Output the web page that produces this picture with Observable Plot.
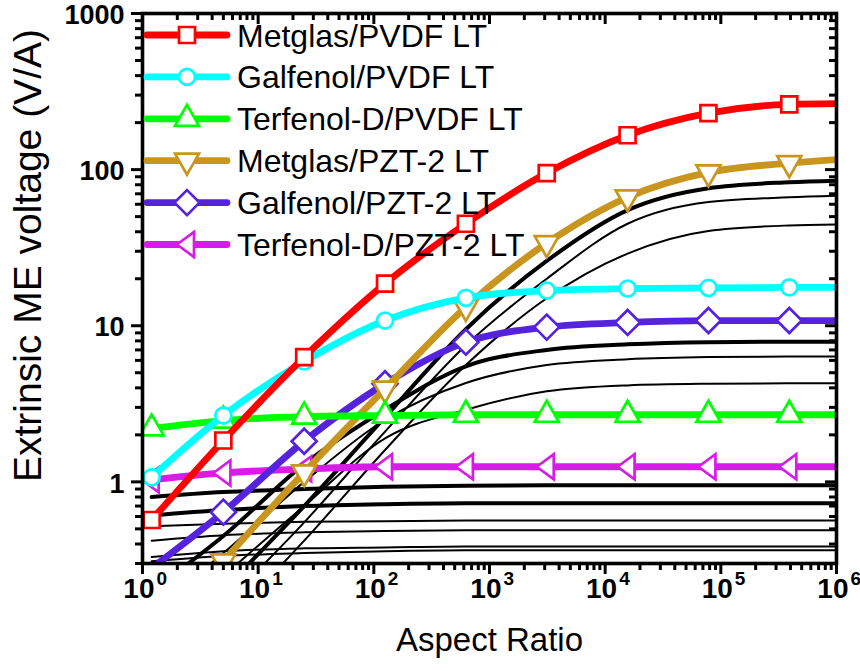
<!DOCTYPE html>
<html>
<head>
<meta charset="utf-8">
<script src="https://cdn.jsdelivr.net/npm/d3@7"></script>
<script src="https://cdn.jsdelivr.net/npm/@observablehq/plot@0.6"></script>
<style>
  html, body { margin: 0; padding: 0; background: #fff; }
  #chart svg { display: block; }
</style>
</head>
<body>
<div id="chart"></div>
<script>
// Aspect ratios at which the curves were evaluated (markers on all but the last)
const aspectRatio = [1.2, 5, 25, 125, 625, 3125, 15625, 78125, 390625, 1e6];

// Extrinsic ME voltage (V/A), longitudinal-transverse (LT) mode
const metglasPVDF   = [0.57, 1.84, 6.3, 18.6, 45, 95, 166, 230, 262, 265];
const galfenolPVDF  = [1.07, 2.66, 5.9, 10.8, 15.1, 16.8, 17.3, 17.5, 17.6, 17.6];
const terfenolPVDF  = [2.2, 2.47, 2.62, 2.66, 2.69, 2.69, 2.69, 2.69, 2.69, 2.69];
const metglasPZT    = [0.09, 0.31, 1.15, 3.95, 13.2, 33.8, 66.5, 96, 110, 116];
const galfenolPZT   = [0.28, 0.64, 1.82, 4.25, 7.85, 9.8, 10.5, 10.8, 10.8, 10.8];
const terfenolPZT   = [1.03, 1.14, 1.21, 1.25, 1.25, 1.25, 1.25, 1.25, 1.25, 1.25];

const seriesNames = [
  "Metglas/PVDF LT", "Galfenol/PVDF LT", "Terfenol-D/PVDF LT",
  "Metglas/PZT-2 LT", "Galfenol/PZT-2 LT", "Terfenol-D/PZT-2 LT"
];
const seriesValues = [metglasPVDF, galfenolPVDF, terfenolPVDF, metglasPZT, galfenolPZT, terfenolPZT];
const seriesColors = ["#FF0000", "#00FFFF", "#00FF00", "#C8961E", "#5522DD", "#D61CE6"];
const seriesMarkers = ["square", "circle", "triangleUp", "triangleDown", "diamond", "triangleLeft"];
// drawing order: later entries on top
const drawOrder = [5, 4, 3, 2, 1, 0];

// Companion curves (black), thick and thin
const thickCurves = [
  [0.06, 0.2, 0.7, 2.6, 9.5, 26, 55, 76, 83, 85],
  [0.2, 0.45, 1.3, 2.9, 5.5, 7.0, 7.6, 7.85, 7.9, 7.9],
  [0.8, 0.86, 0.9, 0.93, 0.945, 0.95, 0.95, 0.95, 0.95, 0.95],
  [0.61, 0.66, 0.7, 0.72, 0.73, 0.73, 0.73, 0.73, 0.73, 0.73]
];
const thinCurves = [
  [0.05, 0.16, 0.55, 2.1, 7.5, 20, 45, 62, 66.5, 68],
  [0.04, 0.12, 0.42, 1.6, 5.6, 15, 29, 40.5, 43.9, 44.5],
  [0.15, 0.35, 1.0, 2.5, 4.3, 5.6, 6.1, 6.3, 6.35, 6.35],
  [0.1, 0.25, 0.7, 1.9, 2.9, 3.8, 4.15, 4.25, 4.28, 4.28],
  [0.52, 0.54, 0.555, 0.56, 0.565, 0.565, 0.565, 0.565, 0.565, 0.565],
  [0.42, 0.455, 0.475, 0.485, 0.49, 0.49, 0.49, 0.49, 0.49, 0.49],
  [0.33, 0.36, 0.375, 0.38, 0.385, 0.385, 0.385, 0.385, 0.385, 0.385],
  [0.31, 0.335, 0.35, 0.36, 0.365, 0.365, 0.365, 0.365, 0.365, 0.365]
];

// Axis ticks
const xMajor = [1, 10, 100, 1e3, 1e4, 1e5, 1e6];
const xExponents = ["0", "1", "2", "3", "4", "5", "6"];
const xMinor = d3.range(0, 6).flatMap(e => d3.range(2, 10).map(m => m * 10 ** e));
const yMajor = [1, 10, 100, 1000];
const yLabels = ["1", "10", "100", "1000"];
const yMinor = [0.3, 0.4, 0.5, 0.6, 0.7, 0.8, 0.9].concat(
  d3.range(0, 3).flatMap(e => d3.range(2, 10).map(m => m * 10 ** e)));

// Layout
const W = 860, H = 671;
const M = {top: 13, right: 24, bottom: 108, left: 142};
const frameW = W - M.left - M.right, frameH = H - M.top - M.bottom;
const majorLen = 11, minorLen = 7;
const font = "'Liberation Sans', Arial, Helvetica, sans-serif";

// Open marker shapes, centred on the data point (triangles on their centroid)
function poly(points) {
  return {
    draw(context, size) {
      const k = Math.sqrt(size / Math.PI) / 8;
      context.moveTo(points[0][0] * k, points[0][1] * k);
      for (const [px, py] of points.slice(1)) context.lineTo(px * k, py * k);
      context.closePath();
    }
  };
}
const markerShapes = {
  square: poly([[-8, -8], [8, -8], [8, 8], [-8, 8]]),
  circle: {draw(context, size) { const r = Math.sqrt(size / Math.PI); context.moveTo(r, 0); context.arc(0, 0, r, 0, 2 * Math.PI); }},
  triangleUp: poly([[0, -14], [12, 7], [-12, 7]]),
  triangleDown: poly([[0, 14], [12, -7], [-12, -7]]),
  diamond: poly([[0, -12.5], [12.5, 0], [0, 12.5], [-12.5, 0]]),
  triangleLeft: poly([[-10, 0], [7, -12.5], [7, 12.5]])
};

const toRows = values => aspectRatio.map((x, i) => ({x, y: values[i]}));
const inRange = r => r.y >= 0.3 && r.y <= 1000;

const marks = [];

// black companion curves
for (const c of thinCurves) {
  marks.push(Plot.line(toRows(c), {x: "x", y: "y", stroke: "#000", strokeWidth: 2, curve: "monotone-x", clip: true}));
}
for (const c of thickCurves) {
  marks.push(Plot.line(toRows(c), {x: "x", y: "y", stroke: "#000", strokeWidth: 4, curve: "monotone-x", clip: true}));
}

// coloured series: line, then open markers (not at the last evaluation point)
for (const i of drawOrder) {
  const rows = toRows(seriesValues[i]);
  marks.push(Plot.line(rows, {x: "x", y: "y", stroke: seriesColors[i], strokeWidth: 6.8, curve: "monotone-x", clip: true}));
  marks.push(Plot.dot(rows.slice(0, -1).filter(inRange), {
    x: "x", y: "y", r: 8, symbol: markerShapes[seriesMarkers[i]],
    fill: "#fff", stroke: seriesColors[i], strokeWidth: 2.7, clip: true
  }));
}

// frame and ticks (outward on left/bottom, inward on top/right)
marks.push(
  Plot.tickX(xMajor, {x: d => d, insetTop: frameH, insetBottom: -majorLen, strokeWidth: 3}),
  Plot.tickX(xMinor, {x: d => d, insetTop: frameH, insetBottom: -minorLen, strokeWidth: 3}),
  Plot.tickX(xMajor, {x: d => d, insetTop: 0, insetBottom: frameH - majorLen, strokeWidth: 3}),
  Plot.tickX(xMinor, {x: d => d, insetTop: 0, insetBottom: frameH - minorLen, strokeWidth: 3}),
  Plot.tickY(yMajor, {y: d => d, insetLeft: -majorLen, insetRight: frameW, strokeWidth: 3}),
  Plot.tickY(yMinor, {y: d => d, insetLeft: -minorLen, insetRight: frameW, strokeWidth: 3}),
  Plot.tickY(yMajor, {y: d => d, insetLeft: frameW - majorLen, insetRight: 0, strokeWidth: 3}),
  Plot.tickY(yMinor, {y: d => d, insetLeft: frameW - minorLen, insetRight: 0, strokeWidth: 3}),
  Plot.frame({stroke: "#000", strokeWidth: 3.6})
);

// tick labels: powers of ten on x, plain numbers on y
marks.push(
  Plot.text(xMajor, {x: d => d, frameAnchor: "bottom", text: () => "10", dx: 12, dy: 34,
    textAnchor: "end", fontSize: 28, fontWeight: "bold", fill: "#000"}),
  Plot.text(xMajor, {x: d => d, frameAnchor: "bottom", text: (d, i) => xExponents[i], dx: 14, dy: 21,
    textAnchor: "start", fontSize: 19, fontWeight: "bold", fill: "#000"}),
  Plot.text(yMajor, {y: d => d, frameAnchor: "left", text: (d, i) => yLabels[i], dx: -18, dy: 2,
    textAnchor: "end", fontSize: 27, fontWeight: "bold", fill: "#000"})
);

// axis titles
marks.push(
  Plot.text(["Aspect Ratio"], {frameAnchor: "bottom", dy: 87, fontSize: 33, textAnchor: "middle", fill: "#000"}),
  Plot.text(["Extrinsic ME voltage (V/A)"], {frameAnchor: "left", rotate: -90, dx: -114, dy: -33,
    textAnchor: "middle", fontSize: 39, fill: "#000"})
);

const chart = Plot.plot({
  width: W,
  height: H,
  marginTop: M.top,
  marginRight: M.right,
  marginBottom: M.bottom,
  marginLeft: M.left,
  style: {fontFamily: font, background: "#fff", color: "#000", overflow: "visible"},
  x: {type: "log", domain: [1, 1e6], axis: null},
  y: {type: "log", domain: [0.3, 1000], axis: null},
  marks
});

// legend in the upper-left corner of the frame
const legend = d3.select(chart).append("g")
  .attr("font-family", font).attr("text-anchor", "start");
const legendTop = M.top + 22, legendStep = 41.9;
seriesNames.forEach((name, i) => {
  const cy = legendTop + i * legendStep;
  legend.append("line")
    .attr("x1", M.left + 5).attr("x2", M.left + 85)
    .attr("y1", cy).attr("y2", cy)
    .attr("stroke", seriesColors[i]).attr("stroke-width", 6.8).attr("stroke-linecap", "round");
  legend.append("path")
    .attr("transform", `translate(${M.left + 45},${cy})`)
    .attr("d", d3.symbol(markerShapes[seriesMarkers[i]], Math.PI * 64)())
    .attr("fill", "#fff").attr("stroke", seriesColors[i]).attr("stroke-width", 2.7);
  legend.append("text")
    .attr("x", M.left + 95).attr("y", cy).attr("dy", "0.36em")
    .attr("text-anchor", "start")
    .attr("font-size", 32).attr("fill", "#000")
    .text(name);
});

document.getElementById("chart").append(chart);
</script>
</body>
</html>
